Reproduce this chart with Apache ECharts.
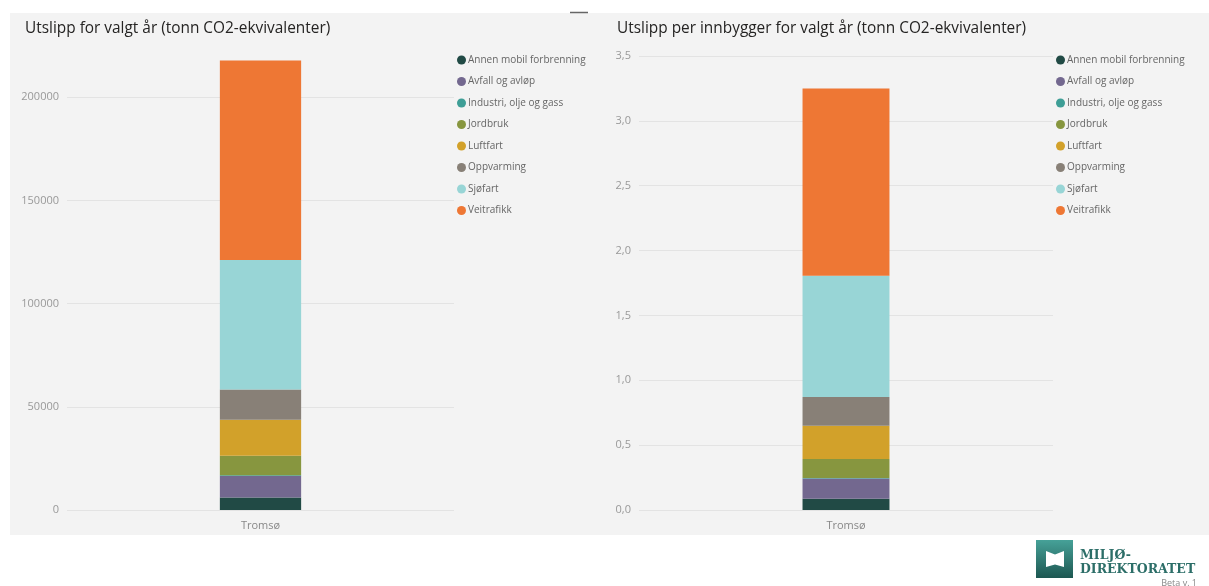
<!DOCTYPE html>
<html>
<head>
<meta charset="utf-8">
<script src="https://cdn.jsdelivr.net/npm/echarts@6/dist/echarts.min.js"></script>
<style>
  html, body { margin: 0; padding: 0; background: #ffffff; }
  #chart { width: 1209px; height: 586px; }
</style>
</head>
<body>
<div id="chart"></div>
<script>
// Municipality shown on the category axis
const categories = ['Tromsø'];

// Emission sectors, in stacking order (bottom to top)
const sectors = [
  'Annen mobil forbrenning',
  'Avfall og avløp',
  'Industri, olje og gass',
  'Jordbruk',
  'Luftfart',
  'Oppvarming',
  'Sjøfart',
  'Veitrafikk'
];

const sectorColors = [
  '#214a45', '#73688f', '#3e9e96', '#87963f',
  '#d2a12a', '#888077', '#98d5d6', '#ee7734'
];

// Total emissions per sector (tonn CO2-ekvivalenter)
const totalEmissions = [6100, 10400, 300, 9500, 17400, 14700, 62800, 96600];

// Emissions per inhabitant per sector (tonn CO2-ekvivalenter)
const perCapitaEmissions = [0.087, 0.155, 0.004, 0.147, 0.256, 0.222, 0.934, 1.444];

const FONT = "'Segoe UI', 'Open Sans', 'Noto Sans', sans-serif";
const chart = echarts.init(document.getElementById('chart'), null, { renderer: 'canvas' });

function makeSeries(values, axisIndex, stack) {
  return sectors.map((name, i) => ({
    name: name,
    type: 'bar',
    stack: stack,
    xAxisIndex: axisIndex,
    yAxisIndex: axisIndex,
    barWidth: '21%',
    itemStyle: { color: sectorColors[i] },
    emphasis: { disabled: true },
    data: categories.map(() => values[i])
  }));
}

function legendAt(left) {
  return {
    orient: 'vertical',
    left: left,
    top: 54,
    padding: 0,
    icon: 'circle',
    itemWidth: 9,
    itemHeight: 9,
    itemGap: 9.5,
    data: sectors,
    textStyle: { fontFamily: FONT, fontSize: 10, color: '#666', lineHeight: 12, padding: [0, 0, 0, -3] }
  };
}

const yLabel = { color: '#999', fontFamily: FONT, fontSize: 11, margin: 8 };
const splitLine = { show: true, lineStyle: { color: '#e3e3e3', width: 1 } };
const titleStyle = { fontFamily: FONT, fontSize: 15.4, fontWeight: 'normal', color: '#252423' };

const option = {
  animation: false,
  backgroundColor: '#ffffff',
  color: sectorColors,
  title: [
    { text: 'Utslipp for valgt år (tonn CO2-ekvivalenter)', left: 25, top: 21, padding: 0, textStyle: titleStyle },
    { text: 'Utslipp per innbygger for valgt år (tonn CO2-ekvivalenter)', left: 617, top: 21, padding: 0, textStyle: titleStyle }
  ],
  legend: [legendAt(457), legendAt(1056)],
  grid: [
    { left: 67, right: 755, top: 56, bottom: 76 },
    { left: 639, right: 156, top: 56, bottom: 76 }
  ],
  xAxis: [0, 1].map(i => ({
    type: 'category',
    gridIndex: i,
    data: categories,
    axisLine: { show: false },
    axisTick: { show: false },
    axisLabel: { color: '#888', fontFamily: FONT, fontSize: 11, margin: 10 }
  })),
  yAxis: [
    {
      type: 'value', gridIndex: 0,
      min: 0, max: 220000, interval: 50000,
      axisLabel: Object.assign({ showMaxLabel: false, formatter: v => String(v) }, yLabel),
      splitLine: Object.assign({ showMaxLine: false }, splitLine),
      axisLine: { show: false }, axisTick: { show: false }
    },
    {
      type: 'value', gridIndex: 1,
      min: 0, max: 3.5, interval: 0.5,
      axisLabel: Object.assign({ formatter: v => v.toFixed(1).replace('.', ',') }, yLabel),
      splitLine: splitLine,
      axisLine: { show: false }, axisTick: { show: false }
    }
  ],
  graphic: [
    // report canvas panel
    { type: 'rect', z: -10, silent: true, shape: { x: 10, y: 13, width: 1199, height: 522 }, style: { fill: '#f3f3f3' } },
    // focus-mode handle at the top edge
    { type: 'line', z: 10, silent: true, shape: { x1: 570, y1: 12.5, x2: 588, y2: 12.5 }, style: { stroke: '#666', lineWidth: 1.5 } },
    // Miljødirektoratet logo
    {
      type: 'rect', silent: true,
      shape: { x: 1036, y: 540, width: 37, height: 38 },
      style: {
        fill: new echarts.graphic.LinearGradient(0, 0, 0, 1, [
          { offset: 0, color: '#46a198' },
          { offset: 1, color: '#1d5751' }
        ])
      }
    },
    {
      type: 'polygon', silent: true,
      shape: { points: [[1046, 551], [1055, 554.5], [1064, 551], [1064, 567], [1055, 564.5], [1046, 567]] },
      style: { fill: '#ffffff' }
    },
    {
      type: 'text', silent: true, x: 1080, y: 555.5,
      style: { text: 'MILJØ-', fill: '#2c6e68', font: "bold 12.5px 'DejaVu Serif', serif", verticalAlign: 'middle' }
    },
    {
      type: 'text', silent: true, x: 1080, y: 570,
      style: { text: 'DIREKTORATET', fill: '#2c6e68', font: "bold 12.5px 'DejaVu Serif', serif", verticalAlign: 'middle' }
    },
    {
      type: 'text', silent: true, x: 1197, y: 583,
      style: { text: 'Beta v. 1', fill: '#888', font: "9px " + FONT, align: 'right', verticalAlign: 'middle' }
    }
  ],
  series: makeSeries(totalEmissions, 0, 'total').concat(makeSeries(perCapitaEmissions, 1, 'perCapita'))
};

chart.setOption(option);
</script>
</body>
</html>
